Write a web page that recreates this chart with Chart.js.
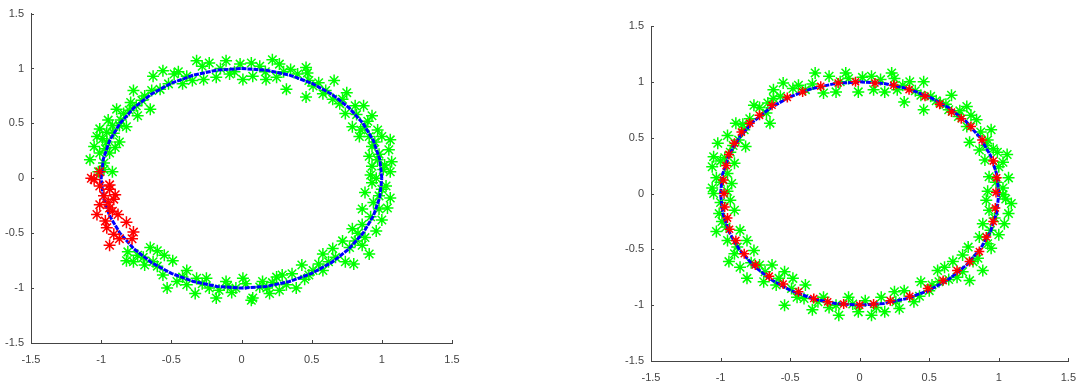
<!DOCTYPE html>
<html>
<head>
<meta charset="utf-8">
<script src="https://cdn.jsdelivr.net/npm/chart.js@4.4.1/dist/chart.umd.min.js"></script>
<style>
  body { margin: 0; background: #fff; width: 1086px; height: 383px; position: relative; overflow: hidden; }
  canvas { position: absolute; top: 0; }
</style>
</head>
<body>
<canvas id="left-chart" width="500" height="383" style="left:0"></canvas>
<canvas id="right-chart" width="486" height="383" style="left:600px"></canvas>
<script>
// axis ticks (same for both plots)
const tickValues = [-1.5, -1, -0.5, 0, 0.5, 1, 1.5];
const tickLabels = ['-1.5', '-1', '-0.5', '0', '0.5', '1', '1.5'];

// blue reference circle, read every 10 degrees
const circleX = [1, 0.985, 0.940, 0.866, 0.766, 0.643, 0.5, 0.342, 0.174, 0, -0.174, -0.342, -0.5, -0.643, -0.766, -0.866, -0.940, -0.985,
  -1, -0.985, -0.940, -0.866, -0.766, -0.643, -0.5, -0.342, -0.174, 0, 0.174, 0.342, 0.5, 0.643, 0.766, 0.866, 0.940, 0.985, 1];
const circleY = [0, 0.174, 0.342, 0.5, 0.643, 0.766, 0.866, 0.940, 0.985, 1, 0.985, 0.940, 0.866, 0.766, 0.643, 0.5, 0.342, 0.174,
  0, -0.174, -0.342, -0.5, -0.643, -0.766, -0.866, -0.940, -0.985, -1, -0.985, -0.940, -0.866, -0.766, -0.643, -0.5, -0.342, -0.174, 0];

// left plot: noisy samples (green) and the red group on the left side
const leftGreen = [
  [-0.32,1.07],[-0.23,1.05],[-0.11,1.07],[-0.01,1.04],[0.07,1.05],[0.22,1.08],[0.27,1.04],[0.35,0.99],[0.46,1.01],[0.47,0.96],
  [-0.56,0.98],[-0.48,0.95],[-0.63,0.93],[-0.39,0.93],[-0.27,0.90],[-0.18,0.92],[-0.085,0.95],[0.01,0.90],[0.08,0.93],[0.175,0.90],[0.25,0.92],
  [-0.42,0.86],[-0.35,0.89],[-0.52,0.86],[-0.58,0.81],[-0.64,0.80],[-0.77,0.80],[-0.69,0.75],[-0.79,0.69],[-0.75,0.66],[-0.65,0.63],
  [-0.89,0.63],[-0.84,0.59],[-0.74,0.57],[-0.95,0.53],[-0.87,0.48],[-1.01,0.45],[-0.82,0.47],[-0.91,0.41],[-1.03,0.38],[-0.96,0.33],
  [-0.87,0.33],[-1.05,0.29],[-0.94,0.23],[-1.01,0.23],[-1.08,0.17],[-0.98,0.14],[-0.92,0.06],[-1.02,0.06],[-0.98,0.08],
  [-0.45,0.97],[-0.15,1.00],[0.13,1.02],[0.17,0.97],[0.40,0.95],[0.30,0.97],[-0.05,0.97],[-0.28,1.02],
  [-0.71,0.71],[-0.80,0.62],[-0.86,0.53],[-0.92,0.48],[-0.99,0.36],[-0.97,0.27],[-0.90,0.28],[-0.96,0.42],
  [0.48,0.89],[0.51,0.84],[0.55,0.87],[0.66,0.89],[0.32,0.81],[0.46,0.74],[0.58,0.77],[0.65,0.72],[0.75,0.78],[0.70,0.68],
  [0.81,0.66],[0.87,0.66],[0.74,0.59],[0.93,0.57],[0.79,0.47],[0.85,0.44],[0.88,0.47],[0.97,0.44],[0.84,0.38],[0.91,0.38],
  [1.00,0.38],[1.06,0.35],[0.93,0.29],[1.05,0.26],[0.91,0.20],[0.97,0.17],[1.07,0.15],[0.93,0.11],[1.01,0.08],[1.06,0.06],[0.92,0.03],
  [0.60,0.80],[0.72,0.72],[0.82,0.58],[0.90,0.52],[0.95,0.33],[0.98,0.22],[1.02,0.12],[0.96,0.00],[1.00,-0.10],[0.94,-0.22],
  [0.93,-0.04],[1.03,-0.07],[0.88,-0.13],[0.98,-0.16],[1.06,-0.18],[0.86,-0.28],[0.98,-0.28],[1.04,-0.27],[0.79,-0.46],[0.86,-0.42],
  [0.92,-0.35],[1.00,-0.38],[0.83,-0.50],[0.81,-0.57],
  [0.96,-0.48],[0.88,-0.54],[0.86,-0.61],[0.91,-0.69],[0.72,-0.57],[0.77,-0.63],[0.65,-0.64],[0.58,-0.69],[0.74,-0.76],[0.80,-0.78],
  [0.67,-0.72],[0.51,-0.84],[0.58,-0.84],[0.43,-0.79],[0.48,-0.88],[0.36,-0.87],[0.29,-0.88],[0.25,-0.90],[0.39,-1.00],[0.32,-0.97],
  [0.27,-1.02],[0.20,-1.05],[0.13,-0.99],[0.08,-1.09],[0.07,-1.11],[0.01,-0.91],[0.03,-0.96],[-0.04,-1.00],[-0.11,-0.94],[-0.16,-1.02],
  [0.62,-0.76],[0.55,-0.78],[0.45,-0.92],[0.15,-0.94],[0.18,-1.00],[-0.07,-1.04],[0.22,-0.95],[-0.10,-0.98],
  [-0.18,-1.09],[-0.25,-0.91],[-0.23,-1.00],[-0.33,-1.05],[-0.32,-0.91],[-0.39,-0.84],[-0.46,-0.94],[-0.53,-1.00],[-0.49,-0.75],
  [-0.55,-0.70],[-0.60,-0.66],[-0.65,-0.63],[-0.63,-0.76],[-0.69,-0.79],[-0.56,-0.88],[-0.74,-0.70],[-0.81,-0.67],[-0.77,-0.76],
  [-0.82,-0.75],[-0.39,-0.97],[-0.28,-0.96],[-0.42,-0.90],[-0.60,-0.80],[-0.70,-0.72]
];
const leftRed = [
  [-1.05,-0.01],[-1.01,-0.07],[-0.94,-0.10],[-0.98,-0.16],[-0.91,-0.19],[-1.01,-0.24],[-0.94,-0.27],[-1.03,-0.33],[-0.88,-0.33],
  [-0.97,-0.39],[-0.82,-0.40],[-0.91,-0.51],[-0.77,-0.49],[-0.87,-0.55],[-0.78,-0.55],[-0.94,-0.61],[-0.95,-0.22],[-1.07,0.00],
  [-1.01,0.06],[-0.94,-0.06],[-0.90,-0.15],[-0.92,-0.30],[-0.96,-0.45]
];

// right plot: noisy samples (green) and evenly spread red points on the circle
const rightGreen = [
  [-0.32,1.08],[-0.22,1.05],[-0.10,1.08],[-0.08,1.03],[0.085,1.05],[0.23,1.08],[0.25,1.03],[0.36,1.00],[0.46,1.00],
  [-0.55,0.99],[-0.48,0.94],[-0.62,0.93],[-0.39,0.93],[-0.26,0.90],[-0.17,0.91],[-0.01,0.91],[0.10,0.93],[0.18,0.91],[0.27,0.93],
  [0.32,0.82],[0.46,0.75],[0.44,0.88],[0.51,0.87],[0.66,0.88],[0.58,0.81],[0.64,0.75],[0.77,0.78],[0.71,0.69],[0.84,0.66],
  [0.77,0.60],[0.945,0.57],[0.79,0.46],[0.86,0.39],[0.91,0.43],[0.99,0.37],[1.06,0.35],[0.90,0.30],[1.00,0.24],[1.07,0.14],
  [0.93,0.15],[1.03,0.05],[0.92,0.02],
  [-0.44,0.97],[-0.14,1.00],[0.02,1.04],[0.15,1.02],[0.31,0.97],[0.40,0.92],[0.55,0.83],[0.62,0.80],[0.72,0.74],[0.80,0.70],
  [0.87,0.55],[0.92,0.48],[0.96,0.40],[1.03,0.28],[0.98,0.10],[1.05,-0.05],[0.97,-0.22],[0.94,-0.33],[0.92,-0.45],[0.85,-0.58],
  [-0.76,0.79],[-0.66,0.81],[-0.57,0.87],[-0.67,0.72],[-0.79,0.67],[-0.645,0.63],[-0.89,0.63],[-0.83,0.57],[-0.95,0.52],
  [-0.87,0.48],[-1.02,0.45],[-0.82,0.42],[-0.93,0.37],[-1.05,0.33],[-1.00,0.29],[-0.90,0.27],[-1.06,0.24],[-0.95,0.18],
  [-1.03,0.14],[-0.92,0.09],[-1.06,0.05],[-0.95,0.02],
  [-1.05,0.00],[-0.93,-0.06],[-1.01,-0.18],[-0.90,-0.15],[-1.03,-0.34],[-0.96,-0.30],[-0.86,-0.33],[-0.81,-0.42],[-0.95,-0.42],
  [-0.76,-0.51],[-0.90,-0.54],[-0.94,-0.61],[-0.86,-0.66],[-0.81,-0.76],[-0.72,-0.64],[-0.63,-0.64],[-0.69,-0.79],[-0.60,-0.82],
  [-0.54,-0.70],[-0.48,-0.76],[-0.49,-0.85],[-0.39,-0.82],[-0.54,-1.00],[-0.40,-0.94],[-0.34,-1.04],[-0.26,-0.93],[-0.17,-1.00],
  [-0.15,-1.09],[-0.08,-0.93],[-0.01,-1.06],[0.04,-0.96],[0.085,-1.09],[0.18,-1.06],[0.155,-0.93],[0.25,-0.88],[0.285,-1.03],
  [0.32,-0.87],[0.39,-0.97],[0.44,-0.79],[0.50,-0.87],[0.57,-0.79],[0.56,-0.69],[0.61,-0.66],[0.67,-0.61],[0.74,-0.55],
  [0.815,-0.61],[0.70,-0.75],[0.79,-0.78],[0.78,-0.48],[0.885,-0.69],[0.945,-0.49],[0.86,-0.39],[1.00,-0.37],[0.885,-0.27],
  [1.04,-0.27],[0.93,-0.15],[1.07,-0.18],[0.91,-0.06],[1.09,-0.09],[1.03,-0.01],
  [0.74,-0.70],[0.64,-0.77],[0.52,-0.82],[0.43,-0.92],[0.26,-0.97],[0.12,-1.02],[-0.05,-0.99],[-0.22,-1.02],[-0.30,-0.97],
  [-0.45,-0.93],[-0.58,-0.76],[-0.68,-0.70],[-0.78,-0.62],[-0.88,-0.48],[-0.99,-0.25],[-1.00,-0.08],[-1.00,0.10],[-0.97,0.32],
  [-0.91,0.43],[-0.84,0.62],[-0.72,0.77],[-0.62,0.85],[-0.34,0.98]
];
const rightRed = [
  [-0.975,0.00],[-0.98,0.12],[-0.96,0.25],[-0.94,0.35],[-0.90,0.45],[-0.85,0.55],[-0.79,0.63],[-0.72,0.70],[-0.63,0.79],
  [-0.52,0.86],[-0.41,0.91],[-0.28,0.96],[-0.155,0.99],[-0.03,1.00],[0.11,0.99],[0.245,0.97],[0.355,0.93],[0.47,0.87],
  [0.575,0.80],[0.66,0.73],[0.73,0.67],[0.80,0.60],[0.88,0.48],[0.96,0.29],[0.985,0.14],[0.98,0.01],
  [-0.97,-0.12],[-0.95,-0.22],[-0.935,-0.32],[-0.89,-0.42],[-0.83,-0.54],[-0.75,-0.64],[-0.65,-0.74],[-0.55,-0.81],
  [-0.44,-0.88],[-0.33,-0.94],[-0.23,-0.97],[-0.115,-0.99],[0.00,-1.00],[0.10,-0.99],[0.22,-0.96],[0.36,-0.92],[0.49,-0.85],
  [0.60,-0.78],[0.70,-0.69],[0.79,-0.61],[0.86,-0.52],[0.91,-0.39],[0.96,-0.25],[0.975,-0.13]
];

const toPoints = pts => pts.map(p => ({ x: p[0], y: p[1] }));
const circlePoints = circleX.map((x, i) => ({ x: x, y: circleY[i] }));

// short tick marks pointing into the plot, like the original figure
const inwardTicks = {
  id: 'inwardTicks',
  afterDraw(chart) {
    const ctx = chart.ctx;
    const area = chart.chartArea;
    ctx.save();
    ctx.strokeStyle = '#444';
    ctx.lineWidth = 1;
    ctx.beginPath();
    tickValues.forEach(v => {
      const px = Math.round(chart.scales.x.getPixelForValue(v)) + 0.5;
      ctx.moveTo(px, area.bottom);
      ctx.lineTo(px, area.bottom - 3);
      const py = Math.round(chart.scales.y.getPixelForValue(v)) + 0.5;
      ctx.moveTo(area.left, py);
      ctx.lineTo(area.left + 3, py);
    });
    ctx.stroke();
    ctx.restore();
  }
};

function axis(pos, fitSize, pad) {
  return {
    type: 'linear',
    position: pos,
    min: -1.5,
    max: 1.5,
    grid: { display: false, drawTicks: false },
    border: { display: true, color: '#444', width: 1 },
    ticks: {
      stepSize: 0.5,
      padding: pad,
      color: '#444',
      font: { family: 'Liberation Sans', size: 11 },
      callback: v => { const i = tickValues.indexOf(v); return i < 0 ? '' : tickLabels[i]; }
    },
    afterFit: scale => {
      if (pos === 'left') scale.width = fitSize; else scale.height = fitSize;
    }
  };
}

function makeChart(id, green, red, yAxisWidth, padding, redRadius) {
  new Chart(document.getElementById(id), {
    type: 'scatter',
    data: {
      datasets: [
        {
          label: 'red',
          data: toPoints(red),
          pointStyle: 'star',
          pointRadius: redRadius,
          borderColor: '#ff0000',
          backgroundColor: '#ff0000',
          borderWidth: 1.5,
          order: 1
        },
        {
          label: 'circle',
          data: circlePoints,
          showLine: true,
          pointRadius: 0,
          borderColor: '#0000ff',
          borderWidth: 3,
          borderDash: [5, 1],
          fill: false,
          order: 2
        },
        {
          label: 'green',
          data: toPoints(green),
          pointStyle: 'star',
          pointRadius: 6,
          borderColor: '#00ff00',
          backgroundColor: '#00ff00',
          borderWidth: 1.5,
          order: 3
        }
      ]
    },
    options: {
      responsive: false,
      animation: false,
      layout: { padding: padding },
      plugins: { legend: { display: false }, tooltip: { enabled: false } },
      scales: {
        x: axis('bottom', 22, 10),
        y: axis('left', yAxisWidth, 7)
      }
    },
    plugins: [inwardTicks]
  });
}

makeChart('left-chart', leftGreen, leftRed, 31, { top: 11, right: 48, bottom: 18, left: 0 }, 6);
makeChart('right-chart', rightGreen, rightRed, 51, { top: 26, right: 11, bottom: 0, left: 0 }, 5);
</script>
</body>
</html>
